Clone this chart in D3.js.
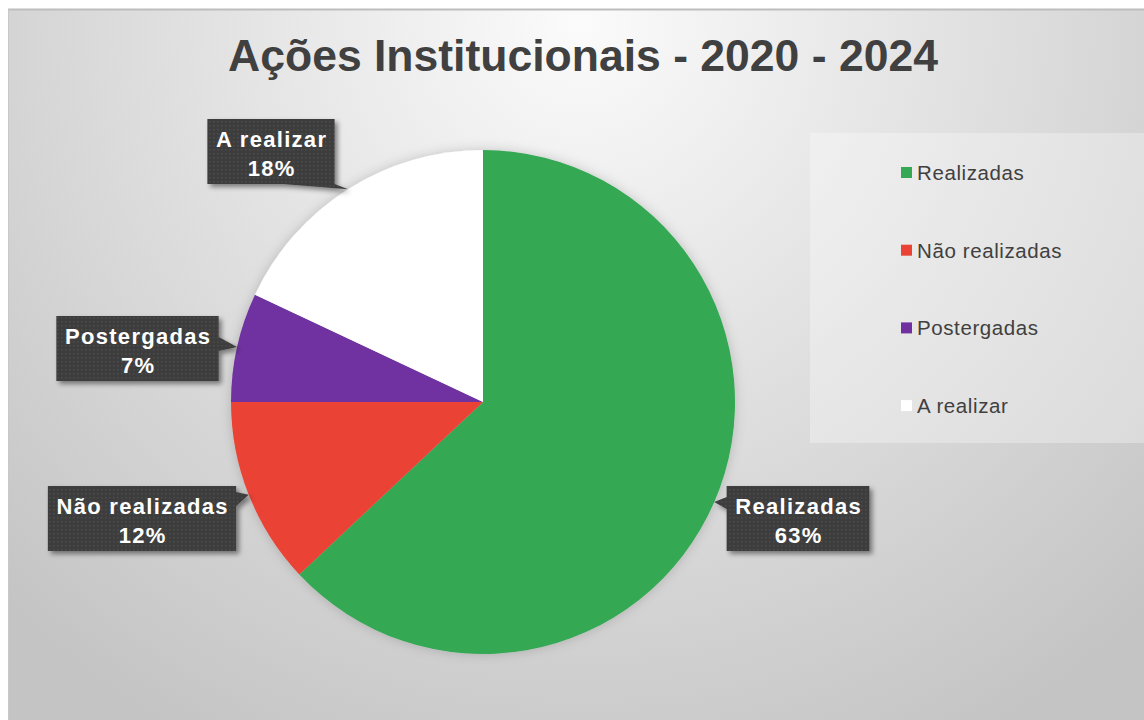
<!DOCTYPE html>
<html lang="pt">
<head>
<meta charset="utf-8">
<title>Ações Institucionais - 2020 - 2024</title>
<script src="https://cdn.jsdelivr.net/npm/d3@7"></script>
<style>
  html, body { margin: 0; padding: 0; background: #ffffff; }
  svg { display: block; }
  .title { font-family: "Liberation Sans", Arial, sans-serif; font-weight: bold; font-size: 44.5px; fill: #404040; }
  .lbl { font-family: "Liberation Sans", Arial, sans-serif; font-weight: bold; font-size: 22px; letter-spacing: 1.3px; fill: #ffffff; }
  .leg { font-family: "Liberation Sans", Arial, sans-serif; font-size: 20.5px; letter-spacing: 0.6px; fill: #404040; }
</style>
</head>
<body>
<div id="chart"></div>
<script>
// ---------------- data ----------------
var categories = ["Realizadas", "Não realizadas", "Postergadas", "A realizar"];
var values = [63, 12, 7, 18];
var colors = ["#34a853", "#ea4335", "#7030a0", "#ffffff"];
var titleText = "Ações Institucionais - 2020 - 2024";

// ---------------- layout ----------------
var width = 1144, height = 720;
var cx = 483, cy = 402, radius = 252;
// data label box centres (one per slice)
var labelBoxes = [[798, 518.5], [142, 518.5], [137.5, 348.5], [271, 151.5]];

var svg = d3.select("#chart").append("svg")
  .attr("width", width)
  .attr("height", height);

var defs = svg.append("defs");

var bg = defs.append("radialGradient")
  .attr("id", "bgGrad")
  .attr("gradientUnits", "userSpaceOnUse")
  .attr("cx", 580).attr("cy", 20).attr("r", 820);
bg.append("stop").attr("offset", "0").attr("stop-color", "#fbfbfb");
bg.append("stop").attr("offset", "0.45").attr("stop-color", "#e2e2e2");
bg.append("stop").attr("offset", "1").attr("stop-color", "#c4c4c4");

var dots = defs.append("pattern")
  .attr("id", "dots")
  .attr("patternUnits", "userSpaceOnUse")
  .attr("width", 4).attr("height", 4);
dots.append("rect").attr("width", 4).attr("height", 4).attr("fill", "#3e3e3e");
dots.append("rect").attr("x", 1).attr("y", 1).attr("width", 1.5).attr("height", 1.5).attr("fill", "#4c4c4c");

var shadow = defs.append("filter").attr("id", "shadow")
  .attr("x", "-20%").attr("y", "-20%").attr("width", "140%").attr("height", "140%");
shadow.append("feDropShadow")
  .attr("dx", 3).attr("dy", 3).attr("stdDeviation", 2.5)
  .attr("flood-color", "#000").attr("flood-opacity", 0.45);

var pieShadow = defs.append("filter").attr("id", "pieShadow")
  .attr("x", "-10%").attr("y", "-10%").attr("width", "120%").attr("height", "120%");
pieShadow.append("feDropShadow")
  .attr("dx", 0).attr("dy", 0).attr("stdDeviation", 6)
  .attr("flood-color", "#000").attr("flood-opacity", 0.18);

// background
svg.append("rect")
  .attr("x", 8).attr("y", 9)
  .attr("width", width - 8).attr("height", height - 9)
  .attr("fill", "url(#bgGrad)");
svg.append("line")
  .attr("x1", 8).attr("x2", width).attr("y1", 9.5).attr("y2", 9.5)
  .attr("stroke", "#bdbdbd").attr("stroke-width", 2);
svg.append("line")
  .attr("x1", 8.5).attr("x2", 8.5).attr("y1", 9).attr("y2", height)
  .attr("stroke", "#c8c8c8").attr("stroke-width", 1);

// title
svg.append("text")
  .attr("class", "title")
  .attr("x", 583).attr("y", 71)
  .attr("text-anchor", "middle")
  .text(titleText);

// ---------------- pie ----------------
var pie = d3.pie().sort(null).value(function(d) { return d; });
var arcs = pie(values);
var arc = d3.arc().innerRadius(0).outerRadius(radius);

var g = svg.append("g")
  .attr("transform", "translate(" + cx + "," + cy + ")");

g.append("g").attr("filter", "url(#pieShadow)")
  .selectAll("path")
  .data(arcs)
  .enter().append("path")
  .attr("d", arc)
  .attr("fill", function(d, i) { return colors[i]; });

// ---------------- data labels ----------------
var fmt = function(v) {
  return Math.round(v / d3.sum(values) * 100) + "%";
};

arcs.forEach(function(d, i) {
  var mid = (d.startAngle + d.endAngle) / 2;
  var tipX = cx + Math.sin(mid) * radius;
  var tipY = cy - Math.cos(mid) * radius;
  var bxC = labelBoxes[i][0], byC = labelBoxes[i][1];

  var lg = svg.append("g").attr("filter", "url(#shadow)");

  var t1 = svg.append("text").attr("class", "lbl")
    .attr("x", bxC).attr("y", byC - 6)
    .text(categories[i]);
  var tw = t1.node().getComputedTextLength();
  t1.remove();

  var bw = tw + 16, bh = 65;
  var x0 = bxC - bw / 2, y0 = byC - bh / 2, x1 = x0 + bw, y1 = y0 + bh;

  // callout shape: box plus a wedge pointing at the slice
  var p;
  if (i === 3) {
    // pointer from bottom edge
    p = [[x0, y0], [x1, y0], [x1, y1], [tipX, tipY], [x1 - 52, y1], [x0, y1]];
  } else if (tipX > x1) {
    var ya = Math.max(y0 + 6, Math.min(y1 - 20, tipY - 10));
    p = [[x0, y0], [x1, y0], [x1, ya], [tipX, tipY], [x1, ya + 14], [x1, y1], [x0, y1]];
  } else {
    var yb = Math.max(y0 + 6, Math.min(y1 - 20, tipY - 5));
    p = [[x0, y0], [x1, y0], [x1, y1], [x0, y1], [x0, yb + 12], [tipX, tipY], [x0, yb]];
  }

  lg.append("path")
    .attr("d", d3.line()(p) + "Z")
    .attr("fill", "url(#dots)");

  svg.append("text").attr("class", "lbl")
    .attr("x", bxC + 0.65).attr("y", byC - 5)
    .attr("text-anchor", "middle")
    .text(categories[i]);
  svg.append("text").attr("class", "lbl")
    .attr("x", bxC + 0.65).attr("y", byC + 24)
    .attr("text-anchor", "middle")
    .text(fmt(d.value));
});

// ---------------- legend ----------------
svg.append("rect")
  .attr("x", 810).attr("y", 133)
  .attr("width", width - 810).attr("height", 310)
  .attr("fill", "#ffffff").attr("fill-opacity", 0.3);

var leg = svg.append("g");
categories.forEach(function(c, i) {
  var y = 172 + i * 77.7;
  leg.append("rect")
    .attr("x", 901).attr("y", y - 5)
    .attr("width", 11).attr("height", 11)
    .attr("fill", colors[i]);
  leg.append("text")
    .attr("class", "leg")
    .attr("x", 917).attr("y", y + 8)
    .text(c);
});
</script>
</body>
</html>
